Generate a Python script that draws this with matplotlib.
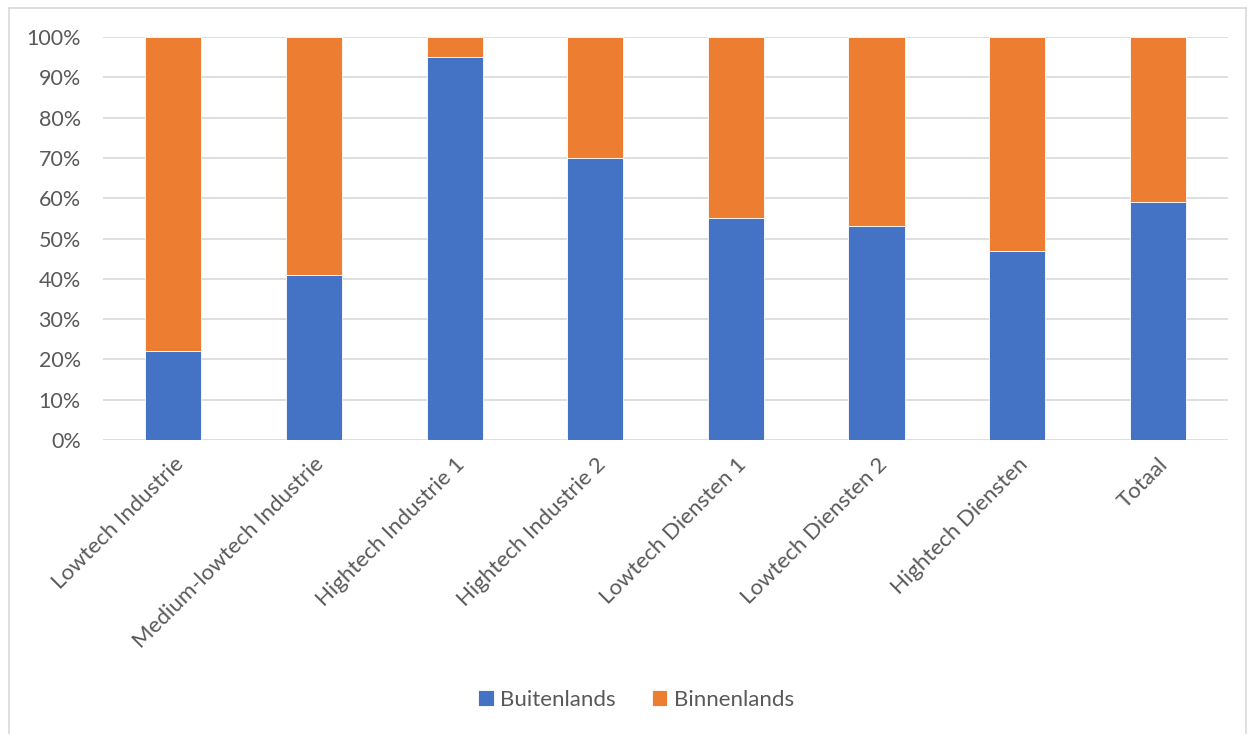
import numpy as np
import matplotlib.pyplot as plt
from matplotlib.lines import Line2D

categories = ['Lowtech Industrie', 'Medium-lowtech Industrie', 'Hightech Industrie 1',
              'Hightech Industrie 2', 'Lowtech Diensten 1', 'Lowtech Diensten 2',
              'Hightech Diensten', 'Totaal']
buitenlands = [22, 41, 95, 70, 55, 53, 47, 59]
binnenlands = [100 - v for v in buitenlands]

plt.rcParams['font.family'] = ['Lato', 'DejaVu Sans']
text_col = '#595959'

fig = plt.figure(figsize=(12.52, 7.34), dpi=100)
ax = fig.add_axes([0.0823, 0.4005, 0.8987, 0.5491])

x = np.arange(len(categories))
ax.bar(x, buitenlands, width=0.4, color='#4472C4', edgecolor='white', linewidth=0.6,
       label='Buitenlands', zorder=3)
ax.bar(x, binnenlands, width=0.4, bottom=buitenlands, color='#ED7D31', edgecolor='white',
       linewidth=0.6, label='Binnenlands', zorder=3)

ax.set_xlim(-0.5, len(categories) - 0.5)
ax.set_ylim(0, 100)
ax.set_yticks(range(0, 101, 10))
ax.set_yticklabels([f'{v}%' for v in range(0, 101, 10)], fontsize=15.5, color=text_col)
ax.set_xticks(x)
ax.set_xticklabels(categories, rotation=45, ha='right', rotation_mode='anchor',
                   fontsize=16, color=text_col)
ax.tick_params(axis='y', length=0, pad=16)
ax.tick_params(axis='x', length=0, pad=10)
ax.grid(axis='y', color='#d9d9d9', linewidth=1.2, zorder=0)
for s in ax.spines.values():
    s.set_visible(False)

ax.legend(loc='center', bbox_to_anchor=(0.508, 0.047), bbox_transform=fig.transFigure,
          ncol=2, frameon=False, fontsize=16, handlelength=0.7, handleheight=0.7,
          handletextpad=0.3, columnspacing=1.6, labelcolor=text_col)

# chart area border
bc = '#d9d9d9'
fig.add_artist(Line2D([9 / 1252, 9 / 1252], [0, 1 - 8 / 734], color=bc, lw=1.2,
                      transform=fig.transFigure))
fig.add_artist(Line2D([9 / 1252, 1246 / 1252], [1 - 8 / 734, 1 - 8 / 734], color=bc, lw=1.2,
                      transform=fig.transFigure))
fig.add_artist(Line2D([1246 / 1252, 1246 / 1252], [0, 1 - 8 / 734], color=bc, lw=1.2,
                      transform=fig.transFigure))

fig.savefig('out.png', dpi=100)
